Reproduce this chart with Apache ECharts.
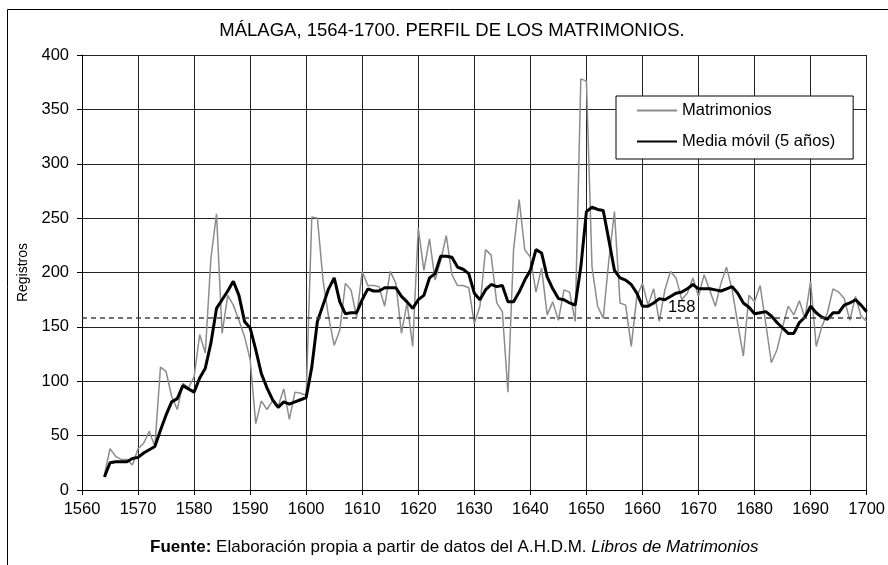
<!DOCTYPE html>
<html>
<head>
<meta charset="utf-8">
<script src="https://cdn.jsdelivr.net/npm/echarts@6/dist/echarts.min.js"></script>
<style>
  html, body { margin: 0; padding: 0; background: #fff; }
  #chart { width: 888px; height: 565px; }
</style>
</head>
<body>
<div id="chart"></div>
<script>
// años 1564-1700
var firstYear = 1564;

var matrimonios = [
  14, 38, 31, 28, 28, 23, 38, 43, 54, 40,
  113, 109, 86, 74, 98, 94, 104, 143, 126, 213,
  254, 144, 179, 170, 156, 141, 120, 61, 82, 74,
  82, 77, 93, 65, 90, 89, 87, 251, 250, 193,
  159, 133, 147, 190, 184, 159, 201, 188, 188, 187,
  169, 201, 190, 144, 172, 132, 241, 202, 231, 193,
  211, 234, 198, 188, 188, 186, 153, 169, 221, 216,
  172, 164, 90, 221, 267, 221, 214, 182, 204, 161,
  173, 156, 184, 182, 155, 378, 376, 205, 169, 158,
  211, 256, 172, 170, 132, 178, 190, 170, 185, 155,
  184, 201, 195, 175, 181, 195, 178, 198, 184, 169,
  190, 205, 184, 153, 123, 179, 173, 188, 153, 117,
  129, 150, 169, 161, 174, 158, 192, 132, 150, 163,
  185, 182, 176, 156, 178, 160, 155
];

var mediaMovil = [
  12, 25, 26, 26, 26, 29, 30, 34, 37, 40,
  55, 69, 81, 84, 96, 93, 90, 103, 112, 135,
  167, 175, 183, 192, 179, 155, 149, 129, 107, 94,
  83, 76, 81, 79, 81, 83, 85, 113, 155, 170,
  185, 195, 173, 162, 163, 163, 175, 185, 183, 183,
  186, 186, 186, 178, 173, 167, 175, 179, 195, 199,
  215, 215, 214, 205, 203, 199, 181, 175, 184, 189,
  187, 188, 173, 173, 182, 193, 202, 221, 218, 196,
  185, 176, 175, 172, 170, 205, 256, 260, 258, 257,
  230, 202, 195, 193, 189, 181, 169, 169, 172, 176,
  175, 178, 181, 182, 185, 189, 185, 185, 185, 184,
  183, 185, 187, 181, 172, 168, 162, 163, 164, 160,
  154, 149, 144, 144, 154, 159, 169, 163, 159, 157,
  163, 163, 170, 172, 175, 170, 164
];

var promedio = 158;
var promedioLabelYear = 1667;

function pairs(values) {
  var out = [];
  for (var i = 0; i < values.length; i++) {
    out.push([firstYear + i, values[i]]);
  }
  return out;
}

var font = '"Liberation Sans", Arial, sans-serif';

var option = {
  animation: false,
  backgroundColor: '#fff',
  textStyle: { fontFamily: font, color: '#000' },
  title: [
    {
      text: 'MÁLAGA, 1564-1700. PERFIL DE LOS MATRIMONIOS.',
      left: 452,
      top: 21,
      textAlign: 'center',
      padding: 0,
      textStyle: { fontSize: 18.5, fontWeight: 'normal', color: '#000', fontFamily: font }
    },
    {
      text: '{b|Fuente:} Elaboración propia a partir de datos del A.H.D.M. {i|Libros de Matrimonios}',
      left: 150,
      top: 539,
      padding: 0,
      textStyle: {
        fontSize: 17, fontWeight: 'normal', color: '#000', fontFamily: font,
        rich: {
          b: { fontSize: 17, fontWeight: 'bold', fontFamily: font, color: '#000' },
          i: { fontSize: 17, fontStyle: 'italic', fontFamily: font, color: '#000' }
        }
      }
    }
  ],
  legend: {
    orient: 'vertical',
    left: 616,
    top: 96,
    padding: [6, 18, 9, 20],
    itemWidth: 40,
    itemHeight: 16,
    itemGap: 14,
    backgroundColor: '#fff',
    borderColor: '#000',
    borderWidth: 1,
    borderRadius: 0,
    itemStyle: { opacity: 0 },
    textStyle: { fontSize: 16.5, color: '#000', fontFamily: font, lineHeight: 16 },
    data: ['Matrimonios', 'Media móvil (5 años)']
  },
  grid: { left: 82, right: 18, top: 55, bottom: 75, containLabel: false },
  xAxis: {
    type: 'value',
    min: 1560,
    max: 1700,
    interval: 10,
    axisLine: { show: true, lineStyle: { color: '#000', width: 1 } },
    axisTick: { show: true, length: 5, lineStyle: { color: '#000' } },
    axisLabel: {
      fontSize: 16.5, color: '#000', margin: 11, fontFamily: font,
      formatter: function (v) { return String(v); }
    },
    splitLine: { show: true, lineStyle: { color: '#222', width: 1 } }
  },
  yAxis: {
    type: 'value',
    min: 0,
    max: 400,
    interval: 50,
    name: 'Registros',
    nameLocation: 'middle',
    nameGap: 50,
    nameTextStyle: { fontSize: 14, color: '#000', fontFamily: font },
    axisLine: { show: true, lineStyle: { color: '#000', width: 1 } },
    axisTick: { show: true, inside: false, length: 5, lineStyle: { color: '#000' } },
    axisLabel: { fontSize: 16.5, color: '#000', margin: 13, fontFamily: font },
    splitLine: { show: true, lineStyle: { color: '#222', width: 1 } }
  },
  graphic: [
    {
      type: 'polyline',
      shape: { points: [[7.5, 600], [7.5, 9.5], [900, 9.5]] },
      style: { stroke: '#000', lineWidth: 1, fill: null },
      silent: true
    }
  ],
  series: [
    {
      name: 'Matrimonios',
      type: 'line',
      symbol: 'none',
      data: pairs(matrimonios),
      lineStyle: { color: '#8c8c8c', width: 1.5 },
      itemStyle: { color: '#8c8c8c' },
      z: 3,
      markLine: {
        silent: true,
        symbol: 'none',
        label: { show: false },
        lineStyle: { color: '#444', width: 1.5, type: [5, 4] },
        data: [[{ coord: [1560, promedio] }, { coord: [1700, promedio] }]]
      },
      markPoint: {
        silent: true,
        symbol: 'circle',
        symbolSize: 0,
        label: {
          show: true,
          position: 'top',
          distance: 2,
          formatter: String(promedio),
          fontSize: 16.5,
          color: '#000',
          fontFamily: font
        },
        data: [{ coord: [promedioLabelYear, promedio] }]
      }
    },
    {
      name: 'Media móvil (5 años)',
      type: 'line',
      symbol: 'none',
      data: pairs(mediaMovil),
      lineStyle: { color: '#000', width: 3 },
      itemStyle: { color: '#000' },
      z: 4
    }
  ]
};

var chart = echarts.init(document.getElementById('chart'));
chart.setOption(option);
</script>
</body>
</html>
